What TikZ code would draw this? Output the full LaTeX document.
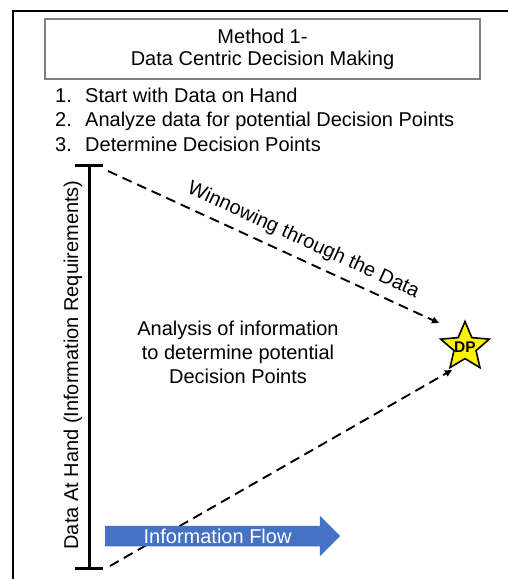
\documentclass[tikz,border=0pt]{standalone}
\usepackage{fontspec}
\setmainfont{Liberation Sans}
\usetikzlibrary{arrows.meta,shapes.geometric,shapes.arrows}
\definecolor{flowblue}{HTML}{4472C4}
\definecolor{boxgray}{HTML}{7F7F7F}
\begin{document}
\begin{tikzpicture}[x=1pt,y=-1pt,
  txt/.style={font=\fontsize{20}{24}\selectfont, inner sep=0pt},
  dashline/.style={line width=1.9pt, dash pattern=on 10pt off 6pt, -{Triangle[length=7pt,width=6.5pt]}},
  axisline/.style={line width=3pt},
  frameline/.style={line width=2pt},
  titlebox/.style={draw=boxgray, line width=1.5pt, minimum width=435pt, minimum height=60pt, inner sep=0pt, align=center, font=\fontsize{20}{22}\selectfont},
  dpstar/.style={star, star points=5, star point ratio=2.2, minimum size=51pt, inner sep=0pt, draw=black, line width=1.6pt, fill=yellow},
  flowarrow/.style={single arrow, fill=flowblue, single arrow head extend=10pt, single arrow tip angle=90, minimum height=235pt, inner xsep=0pt, inner ysep=2.7pt, text=white, font=\fontsize{20}{24}\selectfont}
  ]
\useasboundingbox (0,0) rectangle (508,579);
% frame
\coordinate (fbl) at (13,579);
\coordinate (ftl) at (13,11);
\coordinate (ftr) at (508,11);
\draw[frameline] (fbl) -- (ftl) -- (ftr);
% title
\node[titlebox] (title) at (262.5,49) {Method 1-\\Data Centric Decision Making};
% list
\node[txt, align=left, anchor=north west, font=\fontsize{20}{24.5}\selectfont] (steps) at (55,87.4)
  {\makebox[30pt][l]{1.}Start with Data on Hand\\
   \makebox[30pt][l]{2.}Analyze data for potential Decision Points\\
   \makebox[30pt][l]{3.}Determine Decision Points};
% axis
\coordinate (axt) at (89,165);
\coordinate (axb) at (89,568);
\draw[axisline] (axt) -- (axb);
\draw[axisline] ([xshift=-14pt]axt) -- ([xshift=14pt]axt);
\draw[axisline] ([xshift=-14pt]axb) -- ([xshift=14pt]axb);
\node[txt, rotate=90, anchor=base] (vlabel) at (78,365) {Data At Hand (Information Requirements)};
% star
\node[dpstar, label={[font=\bfseries\fontsize{15.5}{15.5}\selectfont, inner sep=0pt]center:DP}] (dp) at (465,347) {};
% dashed arrows
\coordinate (s1) at (108,171);
\coordinate (e1) at (439,323);
\coordinate (s2) at (110,566);
\coordinate (e2) at (452,370);
\draw[dashline] (s1) -- node[txt, sloped, above=8pt, pos=0.567] (winnow) {Winnowing through the Data} (e1);
\draw[dashline] (s2) -- (e2);
% center text
\node[txt, align=center] (analysis) at (238,352) {Analysis of information\\to determine potential\\Decision Points};
% information flow arrow
\node[flowarrow, anchor=west] (flow) at (105,536) {Information Flow};
\end{tikzpicture}
\end{document}
